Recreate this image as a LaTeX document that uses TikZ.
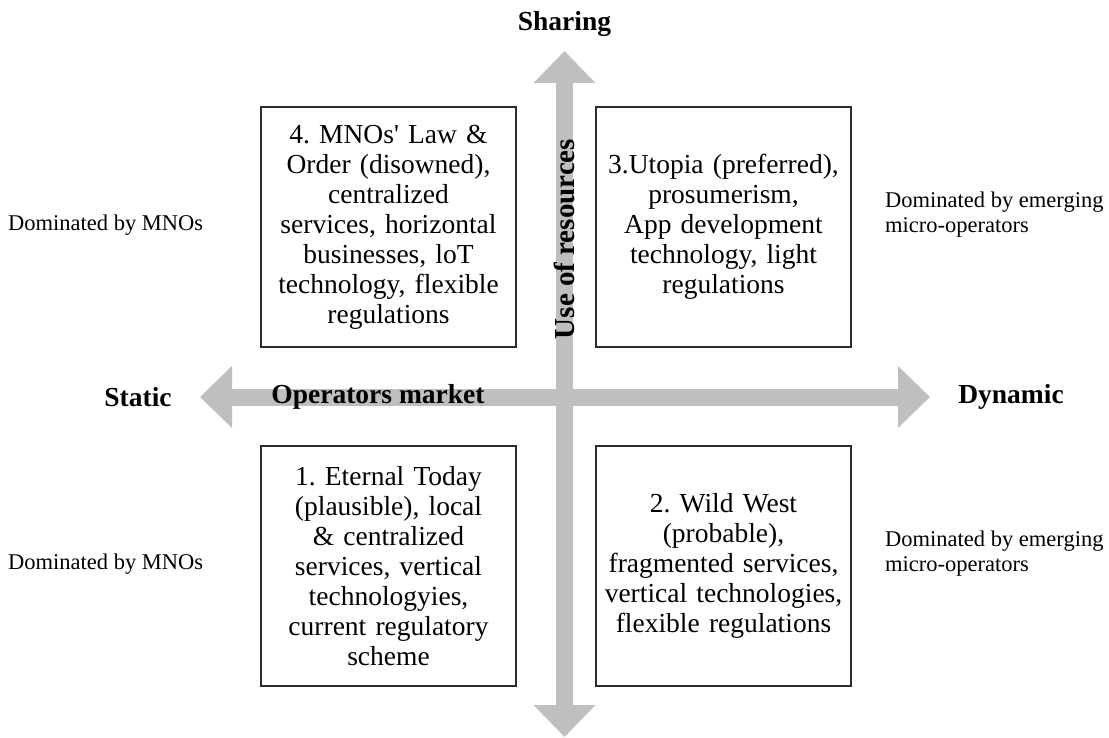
\documentclass[tikz,border=0pt]{standalone}
\usepackage{fontspec}
\setmainfont{Liberation Serif}
\newfontfamily\quadfont{Liberation Serif}
\usepackage{tikz}
\usetikzlibrary{
	arrows.meta,
	positioning
}

\definecolor{axisgray}{RGB}{190,191,193}
\definecolor{boxline}{RGB}{45,45,45}

\begin{document}
\frenchspacing
\begin{tikzpicture}[x=1pt,y=-1pt,
		axis/.style={draw=axisgray,line width=17pt,
			{Triangle[width=60pt,length=32pt]}-{Triangle[width=60pt,length=32pt]}},
		scen/.style={draw=boxline,line width=1.2pt,minimum width=255pt,minimum height=240pt,
			text width=252pt,align=center,inner sep=0pt,font=\quadfont\fontsize{27.5}{30}\selectfont},
		side/.style={align=left,inner sep=0pt,font=\quadfont\fontsize{22.5}{25}\selectfont},
		lbl/.style={inner sep=0pt,font=\quadfont\fontsize{27.5}{30}\selectfont\bfseries}]
		\useasboundingbox (0,0) rectangle (1109,738);

		% axes
		\coordinate (west)  at (200,397);
		\coordinate (east)  at (930,397);
		\coordinate (north) at (564.5,51);
		\coordinate (south) at (564.5,737);
		\draw[axis] (west) -- (east);
		\draw[axis] (south) -- (north);

		\node[lbl]          (share) at (564.5,24)  {Sharing};
		\node[lbl]          (stat)  at (138,397)   {Static};
		\node[lbl]          (dyn)   at (1011,397)  {Dynamic};
		\node[lbl]          (opm)   at (378,397)   {Operators market};
		\node[lbl,rotate=90,font=\quadfont\fontsize{29}{30}\selectfont\bfseries] (use) at (564.5,239) {Use of resources};

		% scenarios
		\node[scen] (s4) at (388.5,227) {4. MNOs' Law \&\\ Order (disowned),\\ centralized\\ services, horizontal\\ businesses, loT\\ technology, flexible\\ regulations};
		\node[scen] (s3) at (723.5,227) {3.Utopia (preferred),\\ prosumerism,\\ App development\\ technology, light\\ regulations};
		\node[scen] (s1) at (388.5,566) {1. Eternal Today\\ (plausible), local\\ \& centralized\\ services, vertical\\ technologyies,\\ current regulatory\\ scheme};
		\node[scen] (s2) at (723.5,566) {2. Wild West\\ (probable),\\ fragmented services,\\ vertical technologies,\\ flexible regulations};

		% who dominates
		\node[side,anchor=west] (dtl) at (8,225)   {Dominated by MNOs};
		\node[side,anchor=west] (dbl) at (8,564)   {Dominated by MNOs};
		\node[side,anchor=west] (dtr) at (885,215) {Dominated by emerging\\ micro-operators};
		\node[side,anchor=west] (dbr) at (885,554) {Dominated by emerging\\ micro-operators};
\end{tikzpicture}
\end{document}
